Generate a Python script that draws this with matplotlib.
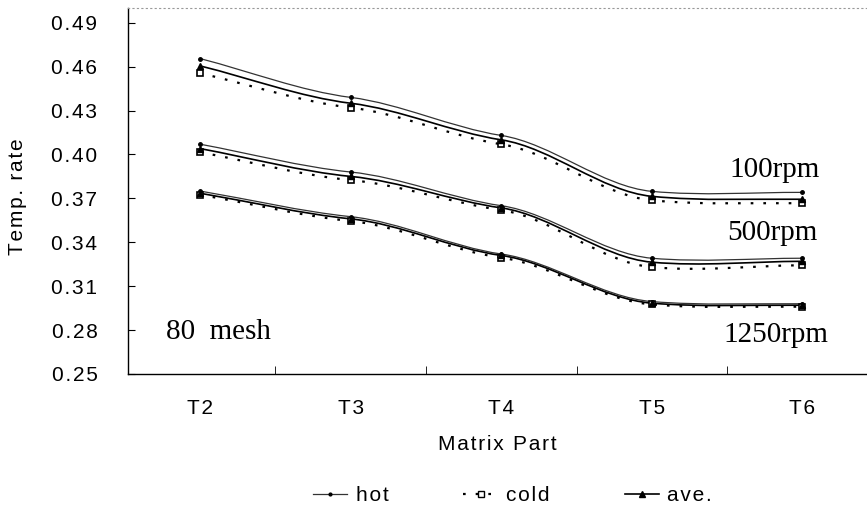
import numpy as np
import matplotlib.pyplot as plt
from matplotlib.path import Path
from matplotlib.patches import PathPatch

parts = ['T2', 'T3', 'T4', 'T5', 'T6']

# temperature rate per matrix part, 80 mesh
hot_100 = [0.4655, 0.4390, 0.4130, 0.3748, 0.3741]
cold_100 = [0.4555, 0.4320, 0.4070, 0.3687, 0.3667]
ave_100 = [0.4605, 0.4350, 0.4100, 0.3714, 0.3694]

hot_500 = [0.4070, 0.3880, 0.3650, 0.3291, 0.3291]
cold_500 = [0.4015, 0.3825, 0.3620, 0.3230, 0.3243]
ave_500 = [0.4040, 0.3850, 0.3635, 0.3264, 0.3270]

hot_1250 = [0.3750, 0.3575, 0.3320, 0.2995, 0.2980]
cold_1250 = [0.3725, 0.3545, 0.3295, 0.2975, 0.2960]
ave_1250 = [0.3735, 0.3560, 0.3310, 0.2984, 0.2970]

rpm_labels = ['100rpm', '500rpm', '1250rpm']
yticks = [0.25, 0.28, 0.31, 0.34, 0.37, 0.40, 0.43, 0.46, 0.49]

SP = '\u200a'  # hair space, the printed labels are letter-spaced


def spaced(s):
    return SP.join(s)


def smooth_path(x, y, tension=0.5):
    # cardinal spline through the points, as bezier segments
    x = np.asarray(x, float)
    y = np.asarray(y, float)
    n = len(x)
    m = np.zeros(n)
    m[0] = (y[1] - y[0]) / (x[1] - x[0])
    m[-1] = (y[-1] - y[-2]) / (x[-1] - x[-2]) * (1 - tension)
    for i in range(1, n - 1):
        m[i] = (1 - tension) * (y[i + 1] - y[i - 1]) / (x[i + 1] - x[i - 1])
    verts = [(x[0], y[0])]
    codes = [Path.MOVETO]
    for i in range(n - 1):
        h = x[i + 1] - x[i]
        verts += [(x[i] + h / 3, y[i] + m[i] * h / 3),
                  (x[i + 1] - h / 3, y[i + 1] - m[i + 1] * h / 3),
                  (x[i + 1], y[i + 1])]
        codes += [Path.CURVE4] * 3
    return Path(verts, codes)


plt.rcParams['font.family'] = ['Liberation Sans', 'DejaVu Sans']
fig = plt.figure(figsize=(8.67, 5.08), dpi=100)
ax = fig.add_axes([0.1476, 0.2638, 0.8524, 0.7202])

xs = np.arange(len(parts))
styles = {
    'hot': dict(ls='-', lw=0.9, color='#333333', marker='o', ms=2.5, mfc='k', mec='k'),
    'cold': dict(ls=(0, (1.2, 4.5)), lw=1.6, color='k', marker='s', ms=5, mfc='white', mec='k', mew=1.2),
    'ave': dict(ls='-', lw=1.2, color='k', marker='^', ms=5, mfc='k', mec='k'),
}

groups = [(hot_100, cold_100, ave_100), (hot_500, cold_500, ave_500),
          (hot_1250, cold_1250, ave_1250)]
for g in groups:
    for name, vals in zip(['hot', 'cold', 'ave'], g):
        st = styles[name]
        ax.add_patch(PathPatch(smooth_path(xs, vals), fill=False, ec=st['color'],
                               lw=st['lw'], ls=st['ls']))
        ax.plot(xs, vals, ls='none', marker=st['marker'], ms=st['ms'],
                mfc=st['mfc'], mec=st['mec'], mew=st.get('mew', 1))

ax.set_xlim(-0.48, 4.43)
ax.set_ylim(0.25, 0.50)
ax.set_xticks(xs)
ax.set_xticklabels([spaced(p) for p in parts])
ax.set_xticks(xs[:-1] + 0.5, minor=True)
ax.set_yticks(yticks)
ax.set_yticklabels([spaced('%.2f' % v) for v in yticks])
ax.tick_params(axis='x', which='major', length=0, labelsize=15, pad=18)
ax.tick_params(axis='x', which='minor', direction='in', length=6)
ax.tick_params(axis='y', direction='in', length=5, labelsize=15, pad=22)

ax.spines['right'].set_visible(False)
ax.spines['top'].set_linestyle((0, (1, 3)))
ax.spines['top'].set_color('#999999')
ax.spines['top'].set_linewidth(0.8)
ax.spines['left'].set_linewidth(1.0)
ax.spines['bottom'].set_linewidth(1.0)

ax.set_xlabel(spaced('Matrix Part'), fontsize=15, va='top')
ax.xaxis.set_label_coords(0.5, -0.168)
ax.set_ylabel(spaced('Temp. rate'), fontsize=15)
ax.yaxis.set_label_coords(-0.136, 0.484)

serif = ['Liberation Serif', 'DejaVu Serif']
ax.text(3.515, 0.3843, rpm_labels[0], family=serif, fontsize=21, ha='left', va='baseline')
ax.text(3.502, 0.3414, rpm_labels[1], family=serif, fontsize=21, ha='left', va='baseline')
ax.text(3.475, 0.2718, rpm_labels[2], family=serif, fontsize=21, ha='left', va='baseline')
ax.text(-0.226, 0.2739, '80  mesh', family=serif, fontsize=21, ha='left', va='baseline')

# legend handles
for name, lab in zip(['hot', 'cold', 'ave'], ['hot', 'cold', 'ave.']):
    st = styles[name]
    ax.plot([], [], ls=st['ls'], lw=st['lw'], color=st['color'], marker=st['marker'],
            ms=st['ms'] * 0.8, mfc=st['mfc'], mec=st['mec'], label=spaced(lab))

fig.legend(*ax.get_legend_handles_labels(), loc='center left',
           bbox_to_anchor=(313 / 867, 0.024), ncol=3, frameon=False, fontsize=15,
           borderpad=0, borderaxespad=0, handlelength=1.65, handletextpad=0.4,
           columnspacing=3.6)

fig.savefig('out.png', dpi=100)
